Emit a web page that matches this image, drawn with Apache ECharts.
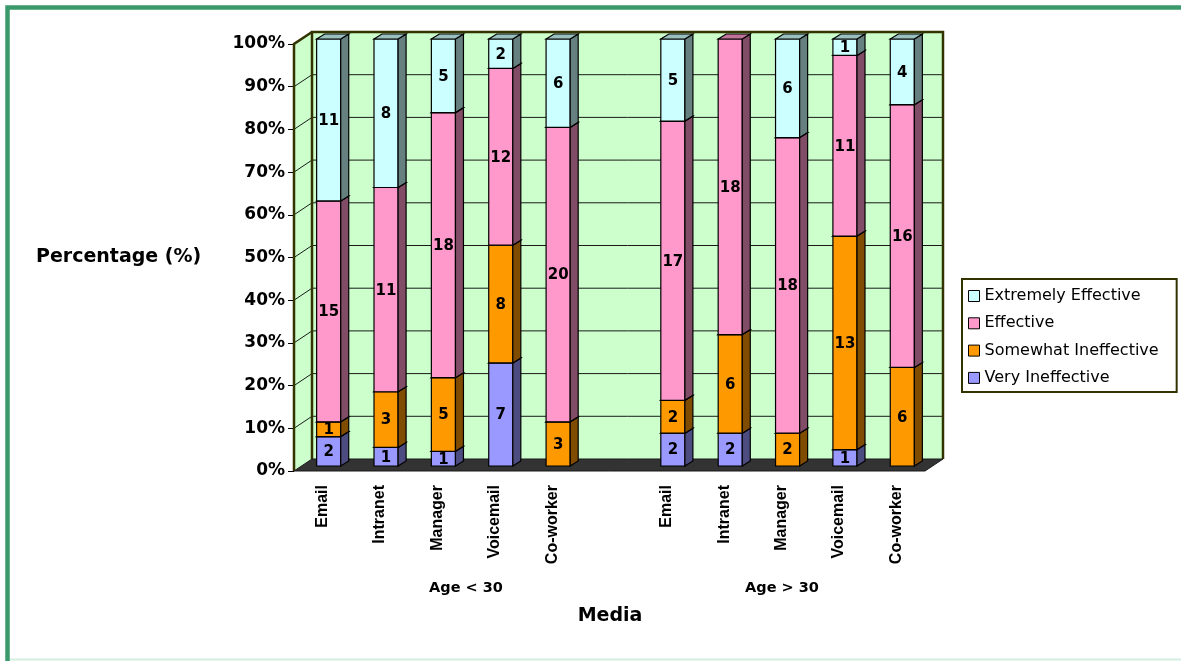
<!DOCTYPE html>
<html>
<head>
<meta charset="utf-8">
<script src="https://cdn.jsdelivr.net/npm/echarts@6/dist/echarts.min.js"></script>
<style>
html,body{margin:0;padding:0;background:#fff;}
#chart{width:1181px;height:661px;}
</style>
</head>
<body>
<div id="chart"></div>
<script>
// ---- data ----
const categories = ['Email','Intranet','Manager','Voicemail','Co-worker','','Email','Intranet','Manager','Voicemail','Co-worker'];
const groupLabels = ['Age < 30','Age > 30'];
const seriesNames = ['Very Ineffective','Somewhat Ineffective','Effective','Extremely Effective'];
const veryIneffective     = [2, 1, 1, 7, 0, null, 2, 2, 0, 1, 0];
const somewhatIneffective = [1, 3, 5, 8, 3, null, 2, 6, 2, 13, 6];
const effective           = [15, 11, 18, 12, 20, null, 17, 18, 18, 11, 16];
const extremelyEffective  = [11, 8, 5, 2, 6, null, 5, 0, 6, 1, 4];
const yTicks = [0,10,20,30,40,50,60,70,80,90,100];

// ---- styles ----
const frontColors = ['#9999FF','#FF9900','#FF99CC','#CCFFFF'];
const sideColors  = ['#4C4C80','#804C00','#804C66','#668080'];
const topColors   = ['#7373BF','#BF7300','#BF7399','#99BFBF'];
const DX = 18, DY = -12;     // wall depth
const BX = 6, BY = -5;       // bar position inside depth
const BD = 8, BDY = -5;      // bar depth

const seriesValues = [veryIneffective, somewhatIneffective, effective, extremelyEffective];

function buildLevel(level){
  const out = [];
  categories.forEach((c, i) => {
    if (seriesValues[0][i] == null) return;
    let total = 0;
    seriesValues.forEach(s => total += s[i]);
    let start = 0;
    for (let k = 0; k < level; k++) start += seriesValues[k][i];
    const v = seriesValues[level][i];
    out.push([i, start / total * 100, (start + v) / total * 100, v]);
  });
  return out;
}

function barRender(level){
  return function(params, api){
    const cat = api.value(0), s = api.value(1), e = api.value(2), n = api.value(3);
    if (!(e > s)) return;
    const b = api.coord([cat, s]), t = api.coord([cat, e]);
    const hw = api.size([1, 0])[0] * 0.21;
    const xl = b[0] + BX - hw, xr = b[0] + BX + hw;
    const yb = b[1] + BY, yt = t[1] + BY;
    const z = level * 10;
    return {type:'group', children:[
      {type:'rect', z2:z, shape:{x:xl, y:yt, width:xr-xl, height:yb-yt},
        style:{fill:frontColors[level], stroke:'#000', lineWidth:1.2}},
      {type:'polygon', z2:z+1, shape:{points:[[xr,yb],[xr+BD,yb+BDY],[xr+BD,yt+BDY],[xr,yt]]},
        style:{fill:sideColors[level], stroke:'#000', lineWidth:1.2}},
      {type:'polygon', z2:z+2, shape:{points:[[xl,yt],[xl+BD,yt+BDY],[xr+BD,yt+BDY],[xr,yt]]},
        style:{fill:topColors[level], stroke:'#000', lineWidth:1.2}},
      {type:'text', z2:200, style:{text:String(n), x:(xl+xr)/2, y:(yt+yb)/2 + 1,
        align:'center', verticalAlign:'middle', fontFamily:'DejaVu Sans', fontWeight:'bold', fontSize:15, fill:'#000'}}
    ]};
  };
}

function wallRender(params, api){
  const cs = params.coordSys;
  const x0 = cs.x, y0 = cs.y, w = cs.width, h = cs.height;
  const edge = '#333300';
  const ch = [];
  ch.push({type:'rect', shape:{x:x0+DX, y:y0+DY, width:w, height:h}, style:{fill:'#CCFFCC', stroke:null}});
  ch.push({type:'polygon', shape:{points:[[x0,y0+h],[x0,y0],[x0+DX,y0+DY],[x0+DX,y0+h+DY]]}, style:{fill:'#CCFFCC', stroke:null}});
  yTicks.forEach(v => {
    if (v === 0 || v === 100) return;
    const y = api.coord([0, v])[1];
    ch.push({type:'line', shape:{x1:x0+DX, y1:y+DY, x2:x0+w+DX, y2:y+DY}, style:{stroke:'#1a1a1a', lineWidth:1}});
    ch.push({type:'line', shape:{x1:x0, y1:y, x2:x0+DX, y2:y+DY}, style:{stroke:'#1a1a1a', lineWidth:1}});
  });
  // wall edges
  ch.push({type:'polyline', shape:{points:[[x0+DX,y0+h+DY],[x0+DX,y0+DY],[x0+w+DX,y0+DY],[x0+w+DX,y0+h+DY]]}, style:{stroke:edge, lineWidth:2.5, fill:null}});
  ch.push({type:'polyline', shape:{points:[[x0,y0+h],[x0,y0],[x0+DX,y0+DY]]}, style:{stroke:edge, lineWidth:2.5, fill:null}});
  // floor
  ch.push({type:'polygon', shape:{points:[[x0,y0+h],[x0+w,y0+h],[x0+w+DX,y0+h+DY],[x0+DX,y0+h+DY]]}, style:{fill:'#333333', stroke:'#1a1a1a', lineWidth:1}});
  return {type:'group', children:ch};
}

const series = [{
  type:'custom', name:'walls', silent:true, z:1,
  data:[[0]], renderItem:wallRender, tooltip:{show:false}
}];
seriesNames.forEach((name, level) => {
  series.push({
    type:'custom', name:name, z:2,
    itemStyle:{color:frontColors[level], borderColor:'#000', borderWidth:1},
    encode:{x:0, y:[1,2]},
    data:buildLevel(level),
    renderItem:barRender(level)
  });
});

const chart = echarts.init(document.getElementById('chart'), null, {renderer:'canvas'});
chart.setOption({
  animation:false,
  backgroundColor:'#ffffff',
  grid:{left:294, top:44, width:631, height:427, containLabel:false},
  xAxis:{
    type:'category', data:categories,
    axisLine:{show:false}, axisTick:{show:false}, splitLine:{show:false},
    axisLabel:{interval:0, rotate:90, margin:14, color:'#000',
      fontFamily:'Liberation Sans', fontWeight:'bold', fontSize:16}
  },
  yAxis:{
    type:'value', min:0, max:100, interval:10,
    axisLine:{show:false}, splitLine:{show:false},
    axisTick:{show:true, length:6, lineStyle:{color:'#000', width:1}},
    axisLabel:{formatter:'{value}%', margin:9, color:'#000',
      fontFamily:'DejaVu Sans', fontWeight:'bold', fontSize:17}
  },
  legend:{
    orient:'vertical', left:962, top:279,
    data:[seriesNames[3], seriesNames[2], seriesNames[1], seriesNames[0]],
    icon:'rect', itemWidth:11, itemHeight:11, itemGap:11.3, itemTextGap:9,
    padding:[9,18,6,6],
    backgroundColor:'#fff', borderColor:'#333300', borderWidth:2,
    itemStyle:{borderColor:'#000', borderWidth:1},
    textStyle:{fontFamily:'DejaVu Sans', fontSize:16, color:'#000'},
    selectedMode:false
  },
  graphic:[
    {type:'rect', silent:true, z:-1, shape:{x:7.5, y:7.5, width:1200, height:656},
      style:{fill:null, stroke:'#3A9A6C', lineWidth:4.5}},
    {type:'line', silent:true, shape:{x1:10, y1:659.5, x2:1181, y2:659.5}, style:{stroke:'#D4EEE2', lineWidth:2}},
    {type:'text', left:36, top:248, style:{text:'Percentage (%)', fontFamily:'DejaVu Sans', fontWeight:'bold', fontSize:19, fill:'#000'}},
    {type:'text', x:466, y:588, style:{text:groupLabels[0], align:'center', verticalAlign:'middle', fontFamily:'DejaVu Sans', fontWeight:'bold', fontSize:14.5, fill:'#000'}},
    {type:'text', x:782, y:588, style:{text:groupLabels[1], align:'center', verticalAlign:'middle', fontFamily:'DejaVu Sans', fontWeight:'bold', fontSize:14.5, fill:'#000'}},
    {type:'text', x:610, y:616, style:{text:'Media', align:'center', verticalAlign:'middle', fontFamily:'DejaVu Sans', fontWeight:'bold', fontSize:19, fill:'#000'}}
  ],
  series:series
});
</script>
</body>
</html>
